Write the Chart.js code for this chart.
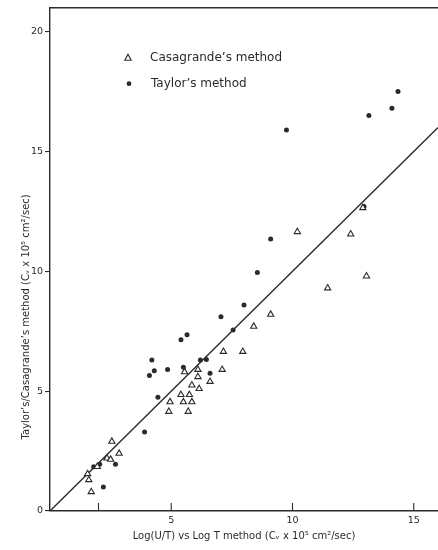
<!DOCTYPE html>
<html>
<head>
<meta charset="utf-8">
<script src="https://cdn.jsdelivr.net/npm/chart.js@4.4.1/dist/chart.umd.min.js"></script>
<style>
  html, body { margin: 0; padding: 0; background: #fff; }
  #wrap { width: 438px; height: 550px; }
</style>
</head>
<body>
<div id="wrap"><canvas id="cvChart" width="438" height="550"></canvas></div>
<script>
// Casagrande's method (open triangles)
const casaX = [1.55, 1.6, 1.7, 1.95, 2.35, 2.5, 2.55, 2.85, 4.9, 4.95, 5.4, 5.75, 5.5, 5.85, 5.7, 5.55,
               5.85, 6.1, 6.1, 6.15, 6.6, 7.1, 7.15, 7.95, 8.4, 9.1, 10.2, 11.45, 12.4, 12.9, 13.05];
const casaY = [1.55, 1.3, 0.8, 1.85, 2.2, 2.15, 2.9, 2.4, 4.15, 4.55, 4.85, 4.85, 4.55, 4.55, 4.15, 5.8,
               5.25, 5.9, 5.6, 5.1, 5.4, 5.9, 6.65, 6.65, 7.7, 8.2, 11.65, 9.3, 11.55, 12.65, 9.8];

// Taylor's method (dots)
const taylorX = [1.8, 2.05, 2.7, 2.2, 3.9, 4.45, 4.1, 4.3, 4.2, 4.85, 5.5, 5.4, 5.65, 6.2, 6.45, 6.6,
                 7.05, 7.55, 8.0, 8.55, 9.1, 9.75, 12.95, 13.15, 14.1, 14.35];
const taylorY = [1.85, 1.95, 1.95, 1.0, 3.3, 4.75, 5.65, 5.85, 6.3, 5.9, 6.0, 7.15, 7.35, 6.3, 6.32, 5.75,
                 8.1, 7.55, 8.6, 9.95, 11.35, 15.9, 12.7, 16.5, 16.8, 17.5];

// 1:1 line
const lineX = [0, 16];
const lineY = [0, 16];

// axis ticks
const xTicks = [0, 2, 5, 10, 15];
const xLabels = ['', '', '5', '10', '15'];
const yTicks = [0, 5, 10, 15, 20];

const ink = '#2b2b2b';
const fontName = '"DejaVu Sans", sans-serif';

const toPoints = (xs, ys) => xs.map((x, i) => ({ x: x, y: ys[i] }));

// top frame line, inner x ticks, y title and legend inside the plot
const extras = {
    id: 'extras',
    afterDraw(chart) {
        const ctx = chart.ctx;
        const area = chart.chartArea;
        const xs = chart.scales.x;
        const ys = chart.scales.y;
        ctx.save();
        ctx.strokeStyle = ink;
        ctx.lineWidth = 1.4;
        ctx.beginPath();
        ctx.moveTo(area.left, area.top);
        ctx.lineTo(area.right, area.top);
        ctx.stroke();

        ctx.lineWidth = 1.1;
        xTicks.forEach(v => {
            if (v === 0) return;
            const px = xs.getPixelForValue(v);
            ctx.beginPath();
            ctx.moveTo(px, area.bottom);
            ctx.lineTo(px, area.bottom - 8);
            ctx.stroke();
        });

        // y title, sits a bit below the middle like the original
        ctx.fillStyle = ink;
        ctx.font = '10px ' + fontName;
        ctx.textAlign = 'center';
        ctx.textBaseline = 'middle';
        ctx.translate(26, ys.getPixelForValue(8.1));
        ctx.rotate(-Math.PI / 2);
        ctx.fillText('Taylor\u2019s/Casagrande\u2019s method (C\u1d65 x 10\u2075 cm\u00b2/sec)', 0, 0);
        ctx.restore();

        // legend
        ctx.save();
        ctx.font = '12px ' + fontName;
        ctx.fillStyle = ink;
        ctx.strokeStyle = ink;
        ctx.textBaseline = 'middle';
        ctx.textAlign = 'left';
        const lx = area.left + 78;
        const tx = area.left + 100;
        const y1 = area.top + 50;
        const y2 = area.top + 76;
        ctx.lineWidth = 1.1;
        ctx.beginPath();
        ctx.moveTo(lx, y1 - 3.5);
        ctx.lineTo(lx + 3.2, y1 + 2.5);
        ctx.lineTo(lx - 3.2, y1 + 2.5);
        ctx.closePath();
        ctx.stroke();
        ctx.fillText(chart.data.datasets[0].label, tx, y1);
        ctx.beginPath();
        ctx.arc(lx + 1, y2, 2.4, 0, Math.PI * 2);
        ctx.fill();
        ctx.fillText(chart.data.datasets[1].label, tx + 1, y2);
        ctx.restore();
    }
};

const ctx = document.getElementById('cvChart').getContext('2d');
const cvChart = new Chart(ctx, {
    type: 'scatter',
    data: {
        datasets: [{
            label: 'Casagrande\u2019s method',
            data: toPoints(casaX, casaY),
            pointStyle: 'triangle',
            pointRadius: 3.6,
            borderWidth: 1.1,
            borderColor: ink,
            backgroundColor: '#fff'
        }, {
            label: 'Taylor\u2019s method',
            data: toPoints(taylorX, taylorY),
            pointStyle: 'circle',
            pointRadius: 2.5,
            borderWidth: 0,
            backgroundColor: ink
        }, {
            label: 'line',
            data: toPoints(lineX, lineY),
            showLine: true,
            pointRadius: 0,
            borderWidth: 1.4,
            borderColor: ink
        }]
    },
    plugins: [extras],
    options: {
        responsive: false,
        animation: false,
        layout: { autoPadding: false, padding: { top: 7, right: 0, bottom: 0, left: 0 } },
        scales: {
            x: {
                type: 'linear',
                min: 0,
                max: 16,
                afterFit: scale => { scale.height = 39; },
                afterBuildTicks: scale => { scale.ticks = xTicks.map(v => ({ value: v })); },
                border: { color: ink, width: 1.4 },
                grid: { display: true, drawOnChartArea: false, drawTicks: false },
                ticks: {
                    padding: 4,
                    color: ink,
                    font: { family: fontName, size: 9.5 },
                    callback: (v) => xLabels[xTicks.indexOf(v)]
                },
                title: {
                    display: true,
                    text: 'Log(U/T) vs Log T method (C\u1d65 x 10\u2075 cm\u00b2/sec)',
                    color: ink,
                    font: { family: fontName, size: 10 },
                    padding: { top: 0, bottom: 8 }
                }
            },
            y: {
                type: 'linear',
                min: 0,
                max: 21,
                afterFit: scale => { scale.width = 50; },
                afterBuildTicks: scale => { scale.ticks = yTicks.map(v => ({ value: v })); },
                border: { color: ink, width: 1.4 },
                grid: { display: true, drawOnChartArea: false, tickLength: 5, color: ink, lineWidth: 1.1 },
                ticks: {
                    padding: 2,
                    color: ink,
                    font: { family: fontName, size: 9.5 }
                }
            }
        },
        plugins: {
            legend: { display: false },
            tooltip: { enabled: false }
        }
    }
});
</script>
</body>
</html>
